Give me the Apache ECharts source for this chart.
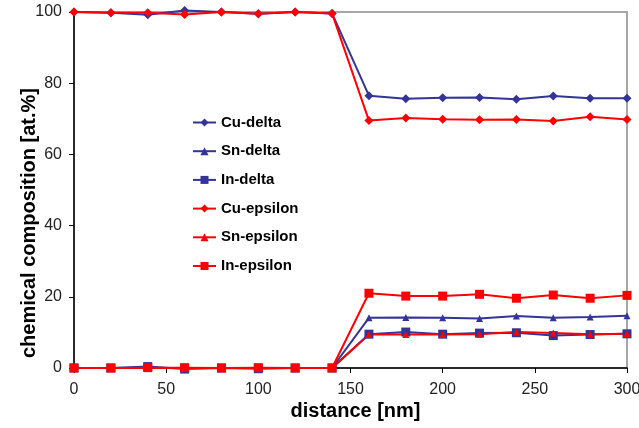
<!DOCTYPE html>
<html><head><meta charset="utf-8">
<script src="https://cdn.jsdelivr.net/npm/echarts@6/dist/echarts.min.js"></script>
<style>html,body{margin:0;padding:0;background:#fff}#c{width:639px;height:428px}</style>
</head><body><div id="c"></div>
<script>
const distance = [0,20,40,60,80,100,120,140,160,180,200,220,240,260,280,300];
const cuDelta = [100,99.8,99.2,100.4,100,99.5,100,99.6,76.5,75.6,75.9,76.0,75.5,76.4,75.8,75.8];
const snDelta = [0,0,0,0,0,0,0,0,14.1,14.2,14.1,13.9,14.6,14.1,14.3,14.7];
const inDelta = [0,0,0.4,-0.3,0,-0.2,0,0,9.5,10.1,9.5,9.8,9.9,9.1,9.4,9.6];
const cuEps = [100,99.8,99.8,99.3,100,99.5,100,99.6,69.5,70.2,69.9,69.7,69.8,69.4,70.6,69.8];
const snEps = [0,0,0,0,0,0,0,0,9.4,9.4,9.4,9.5,10.1,9.8,9.5,9.6];
const inEps = [0,0,0.1,0.1,0,0.1,0,0,21.0,20.2,20.2,20.7,19.6,20.5,19.6,20.4];
const names = ['Cu-delta','Sn-delta','In-delta','Cu-epsilon','Sn-epsilon','In-epsilon'];
const values = [cuDelta,snDelta,inDelta,cuEps,snEps,inEps];
const colors = ['#333399','#333399','#333399','#ff0000','#ff0000','#ff0000'];
const symbols = ['diamond','triangle','rect','diamond','triangle','rect'];
const sizes = [9,7,9,9,7,9];

const chart = echarts.init(document.getElementById('c'));
chart.setOption({
  animation:false,
  grid:{left:74,right:12,top:12,bottom:60,containLabel:false,outerBoundsMode:'none',
    show:true,borderColor:'#a6a6a6',borderWidth:2,backgroundColor:'#fff'},
  legend:{orient:'vertical',left:187,top:110,itemWidth:23,itemHeight:10,itemGap:13.7,
    textStyle:{fontFamily:'Liberation Sans',fontWeight:'bold',fontSize:15,color:'#000'},
    data:names},
  xAxis:{type:'value',min:0,max:300,interval:50,
    name:'distance [nm]',nameLocation:'middle',nameGap:33,nameMoveOverlap:false,
    nameTextStyle:{fontFamily:'Liberation Sans',fontWeight:'bold',fontSize:20,color:'#000',padding:[0,0,0,10]},
    axisLine:{lineStyle:{color:'#000',width:1.5}},axisTick:{show:true,length:5,lineStyle:{color:'#000'}},
    axisLabel:{fontFamily:'Liberation Sans',fontSize:16,color:'#222',margin:14},
    splitLine:{show:false}},
  yAxis:{type:'value',min:0,max:100,interval:20,
    name:'chemical composition [at.%]',nameLocation:'middle',nameGap:35,nameMoveOverlap:false,
    nameTextStyle:{fontFamily:'Liberation Sans',fontWeight:'bold',fontSize:20,color:'#000',padding:[0,66,0,0]},
    axisLine:{lineStyle:{color:'#000',width:1.5}},axisTick:{show:true,length:5,lineStyle:{color:'#000'}},
    axisLabel:{fontFamily:'Liberation Sans',fontSize:16,color:'#222',margin:12},
    splitLine:{show:false}},
  series: names.map((n,i)=>({
    name:n,type:'line',clip:false,
    data:distance.map((d,j)=>[d,values[i][j]]),
    symbol:symbols[i],symbolSize:sizes[i],showAllSymbol:true,
    lineStyle:{color:colors[i],width:2},
    itemStyle:{color:colors[i]}
  }))
});
</script></body></html>
